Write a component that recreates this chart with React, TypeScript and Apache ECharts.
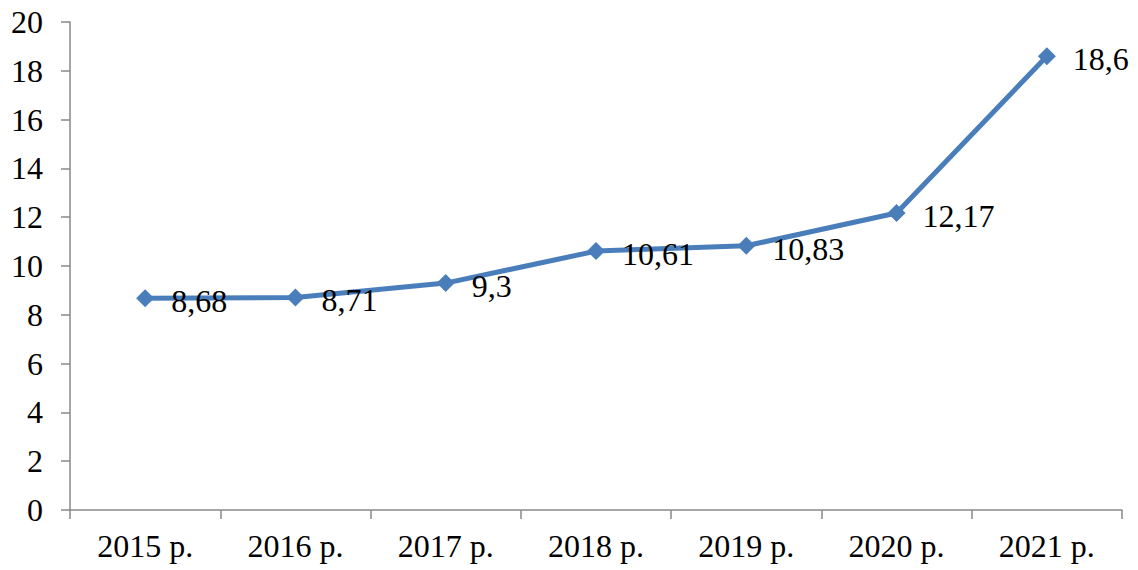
import React, { useEffect, useRef } from "react";
import * as echarts from "echarts";

const categories = ["2015 р.", "2016 р.", "2017 р.", "2018 р.", "2019 р.", "2020 р.", "2021 р."];
const values = [8.68, 8.71, 9.3, 10.61, 10.83, 12.17, 18.6];
const yMin = 0;
const yMax = 20;
const yInterval = 2;

const FONT = "Liberation Serif";

export default function App() {
  const ref = useRef<HTMLDivElement>(null);
  useEffect(() => {
    if (!ref.current) return;
    const chart = echarts.init(ref.current, null, { renderer: "svg" });
    chart.setOption({
      animation: false,
      backgroundColor: "#ffffff",
      textStyle: { fontFamily: FONT },
      grid: { left: 70, right: 16, top: 22, bottom: 60, containLabel: false },
      xAxis: {
        type: "category",
        data: categories,
        boundaryGap: true,
        axisLine: { show: true, lineStyle: { color: "#898989", width: 1.5 } },
        axisTick: { show: true, length: 9, lineStyle: { color: "#898989", width: 1.5 } },
        axisLabel: { color: "#000", fontSize: 32, fontFamily: FONT, margin: 20 },
        splitLine: { show: false },
      },
      yAxis: {
        type: "value",
        min: yMin,
        max: yMax,
        interval: yInterval,
        axisLine: { show: true, lineStyle: { color: "#898989", width: 1.5 } },
        axisTick: { show: true, length: 9, lineStyle: { color: "#898989", width: 1.5 } },
        axisLabel: {
          color: "#000",
          fontSize: 32,
          fontFamily: FONT,
          margin: 27,
          formatter: (v: number) => String(v),
        },
        splitLine: { show: false },
      },
      series: [
        {
          type: "line",
          data: values,
          symbol: "diamond",
          symbolSize: 18,
          lineStyle: { color: "#4a7ebb", width: 5 },
          itemStyle: { color: "#4a7ebb" },
          label: {
            show: true,
            position: "right",
            distance: 17,
            color: "#000",
            fontSize: 32,
            fontFamily: FONT,
            offset: [0, 3],
            formatter: (p: any) => String(p.value).replace(".", ","),
          },
        },
      ],
    });
    return () => chart.dispose();
  }, []);
  return (
    <div
      ref={ref}
      style={{ position: "fixed", left: 0, top: 0, width: 1138, height: 570 }}
    />
  );
}
